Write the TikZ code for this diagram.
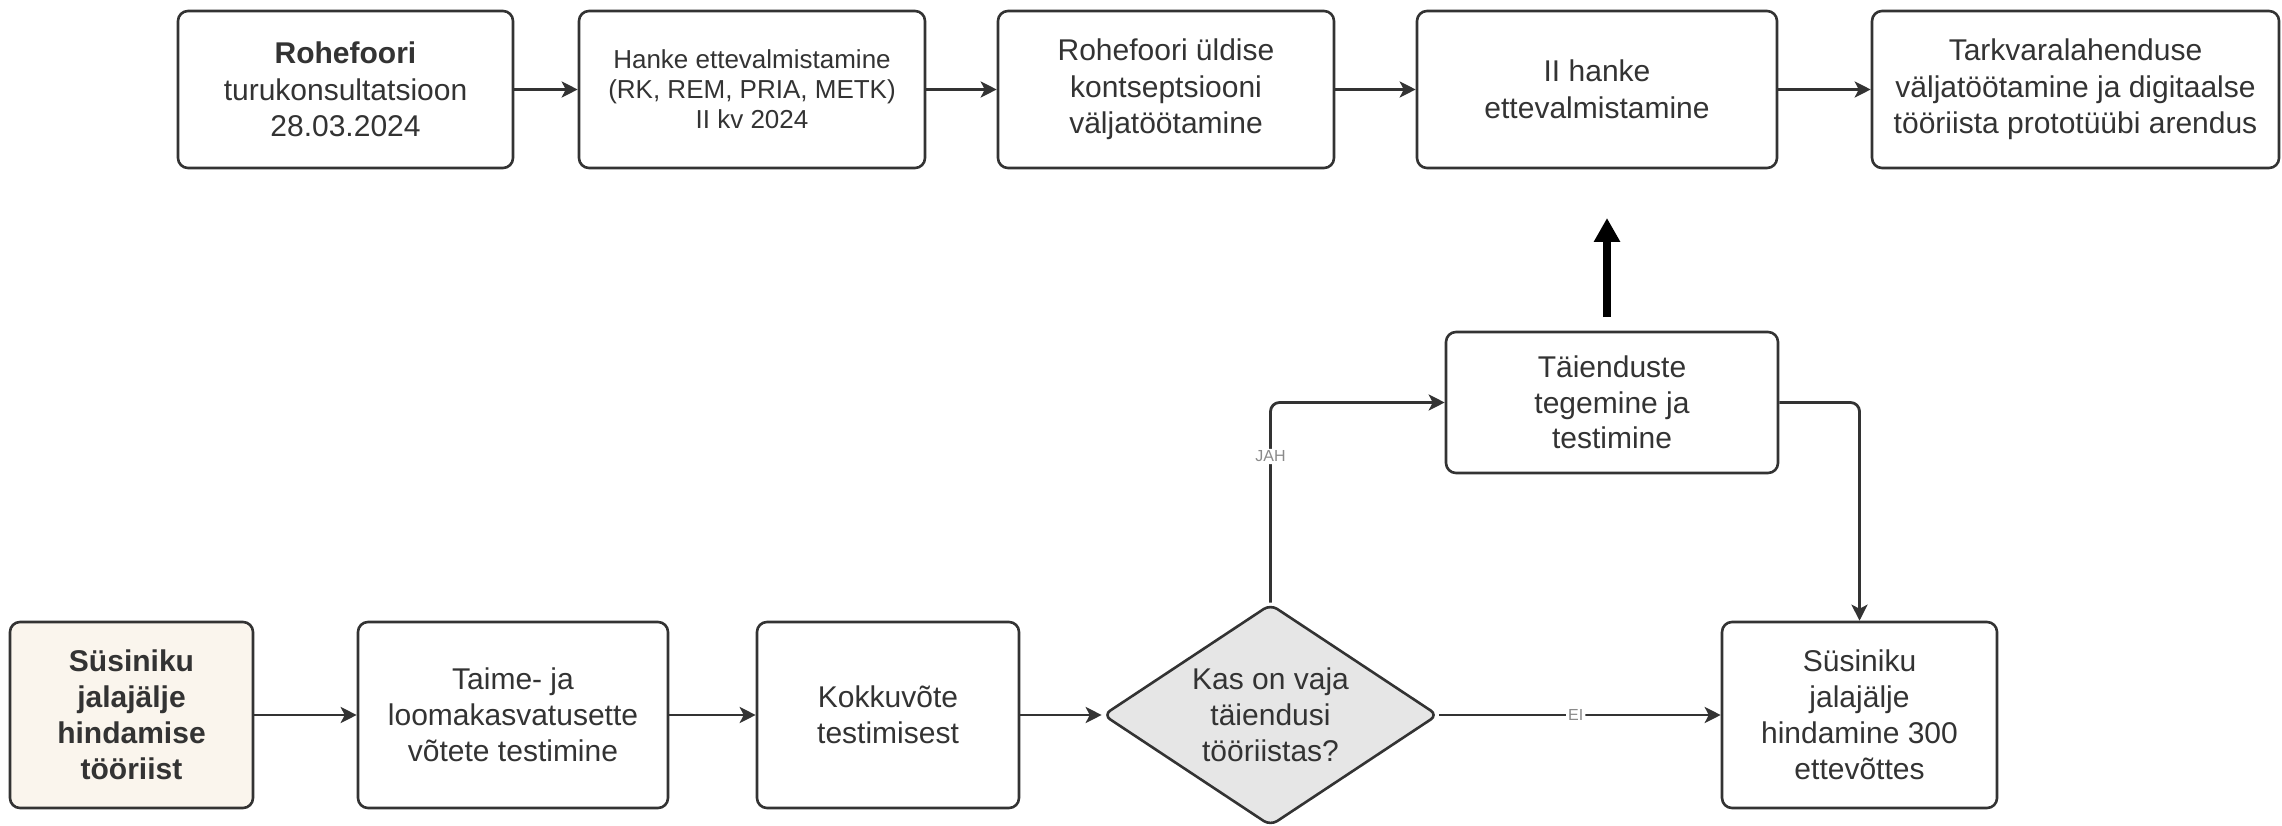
\documentclass[tikz,border=0pt]{standalone}
\usepackage{fontspec}
\setmainfont{Liberation Sans}
\usetikzlibrary{shapes.geometric,arrows.meta}
\definecolor{ink}{HTML}{333333}
\definecolor{cream}{HTML}{FAF5ED}
\definecolor{dgray}{HTML}{E6E6E6}
\definecolor{lbl}{HTML}{8A8A8A}
\tikzset{
  box/.style={draw=ink, line width=2.6pt, rounded corners=10pt, fill=white,
    align=center, text=ink, inner sep=0pt,
    font=\fontsize{30}{36.5}\selectfont},
  smallbox/.style={box, font=\fontsize{26}{30}\selectfont},
  lowbox/.style={box, minimum height=186pt, font=\fontsize{30}{36}\selectfont},
  decision/.style={diamond, aspect=1.5, draw=ink, line width=2.6pt, rounded corners=8pt,
    fill=dgray, align=center, text=ink, inner sep=0pt,
    minimum width=335pt, minimum height=222pt,
    font=\fontsize{30}{36}\selectfont},
  conn/.style={draw=ink, line width=2.8pt, rounded corners=9pt,
    -{Stealth[length=16pt,width=16pt,inset=4pt]}},
  edgelabel/.style={fill=white, text=lbl, inner sep=2pt,
    font=\fontsize{16}{18}\selectfont},
  bigarrow/.style={draw=black, line width=8pt,
    -{Triangle[length=24pt,width=25pt]}}
}
\begin{document}
\begin{tikzpicture}[x=1pt,y=-1pt]
\useasboundingbox (0,0) rectangle (2282,826);
% top row
\node[box, minimum width=335pt, minimum height=157pt] (b1) at (345.5,89.5)
  {\textbf{Rohefoori}\\turukonsultatsioon\\28.03.2024};
\node[smallbox, minimum width=346pt, minimum height=157pt] (b2) at (752,89.5)
  {Hanke ettevalmistamine\\(RK, REM, PRIA, METK)\\II kv 2024};
\node[box, minimum width=336pt, minimum height=157pt] (b3) at (1166,89.5)
  {Rohefoori üldise\\kontseptsiooni\\väljatöötamine};
\node[box, minimum width=360pt, minimum height=157pt] (b4) at (1597,89.5)
  {II hanke\\ettevalmistamine};
\node[box, minimum width=407pt, minimum height=157pt] (b5) at (2075.5,89.5)
  {Tarkvaralahenduse\\väljatöötamine ja digitaalse\\tööriista prototüübi arendus};
% middle
\node[box, minimum width=332pt, minimum height=141pt,
  font=\fontsize{30}{35.5}\selectfont] (t) at (1612,402.5)
  {Täienduste\\tegemine ja\\testimine};
% bottom row
\node[lowbox, fill=cream, minimum width=243pt] (s) at (131.5,715)
  {\textbf{Süsiniku}\\\textbf{jalajälje}\\\textbf{hindamise}\\\textbf{tööriist}};
\node[lowbox, minimum width=310pt] (ta) at (513,715)
  {Taime- ja\\loomakasvatusette\\võtete testimine};
\node[lowbox, minimum width=262pt] (k) at (888,715)
  {Kokkuvõte\\testimisest};
\node[decision] (d) at (1270.5,715)
  {Kas on vaja\\täiendusi\\tööriistas?};
\node[lowbox, minimum width=275pt] (r) at (1859.5,715)
  {Süsiniku\\jalajälje\\hindamine 300\\ettevõttes};
% connectors top
\draw[conn] (b1) -- (b2);
\draw[conn] (b2) -- (b3);
\draw[conn] (b3) -- (b4);
\draw[conn] (b4) -- (b5);
% connectors bottom
\draw[conn] (s) -- (ta);
\draw[conn] (ta) -- (k);
\draw[conn] (k) -- (d);
\draw[conn] (d.east) -- node[edgelabel, pos=0.485] (ei) {EI} (r.west);
\draw[conn] (d.north) -- node[edgelabel, pos=0.73] (jah) {JAH} (d.north |- t.west) -- (t.west);
\draw[conn] (t.east) -- (r.north |- t.east) -- (r.north);
% big arrow
\coordinate (ba1) at (1607,317);
\coordinate (ba2) at (1607,218);
\draw[bigarrow] (ba1) -- (ba2);
\end{tikzpicture}
\end{document}
